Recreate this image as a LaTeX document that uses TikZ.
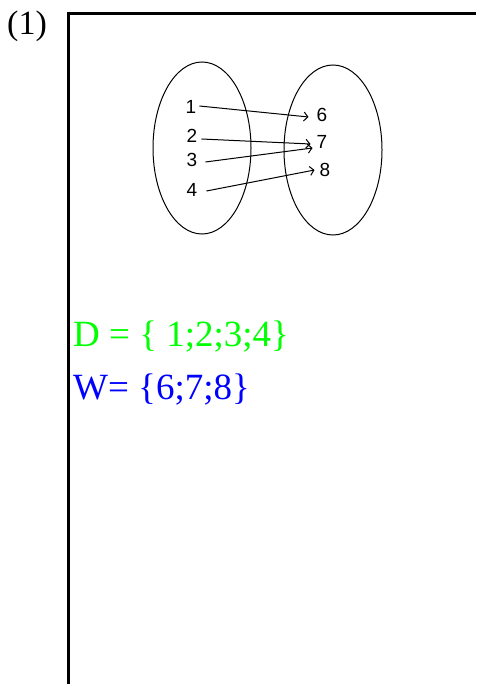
\documentclass[tikz,border=0pt]{standalone}
\usepackage{fontspec}
\setmainfont{Liberation Serif}
\newfontfamily\diagfont{Liberation Sans}
\usetikzlibrary{shapes.geometric,arrows.meta}
\definecolor{setgreen}{RGB}{0,255,0}
\definecolor{setblue}{RGB}{0,0,255}
\tikzset{
  frameline/.style={line width=3pt},
  setoval/.style={ellipse, draw, line width=1pt, inner sep=0pt},
  elem/.style={font=\diagfont\fontsize{19}{19}\selectfont, inner sep=1pt},
  maparrow/.style={line width=1pt, -{Straight Barb[length=4pt,width=9pt]}},
  bigtext/.style={font=\fontsize{37}{42}\selectfont, anchor=base west, inner sep=0pt},
  labeltext/.style={font=\fontsize{34}{38}\selectfont, anchor=base west, inner sep=0pt}
}
\begin{document}
\begin{tikzpicture}[x=1pt,y=-1pt]
\useasboundingbox (0,0) rectangle (476,684);
\fill[white] (0,0) rectangle (476,684);
% frame
\coordinate (ftop) at (476,13.5);
\coordinate (fcorner) at (68,13.5);
\coordinate (fbot) at (68,684);
\draw[frameline] (ftop) -- (fcorner) -- (fbot);
\node[labeltext] (num) at (7,35) {(1)};
% ovals
\node[setoval, minimum width=98pt, minimum height=172pt] (dom) at (202,148) {};
\node[setoval, minimum width=98pt, minimum height=170pt] (rng) at (333,150) {};
% elements
\node[elem] (a1) at (191,107) {1};
\node[elem] (a2) at (192,136) {2};
\node[elem] (a3) at (192,160) {3};
\node[elem] (a4) at (192,190) {4};
\node[elem] (b6) at (322,115) {6};
\node[elem] (b7) at (322,142) {7};
\node[elem] (b8) at (325,170) {8};
% arrows
\draw[maparrow] ([xshift=2pt,yshift=1pt]a1.east) -- ([xshift=-7pt,yshift=-2pt]b6.west);
\draw[maparrow] ([xshift=3pt,yshift=-3pt]a2.east) -- ([xshift=-5pt,yshift=-2pt]b7.west);
\draw[maparrow] ([xshift=7pt,yshift=-2pt]a3.east) -- ([xshift=-3pt,yshift=-6pt]b7.west);
\draw[maparrow] ([xshift=8pt,yshift=-1pt]a4.east) -- ([xshift=-4pt]b8.west);
% sets
\node[bigtext, text=setgreen] (dset) at (73,346) {D = \{ 1;2;3;4\}};
\node[bigtext, text=setblue] (wset) at (73,399) {W= \{6;7;8\}};
\end{tikzpicture}
\end{document}
